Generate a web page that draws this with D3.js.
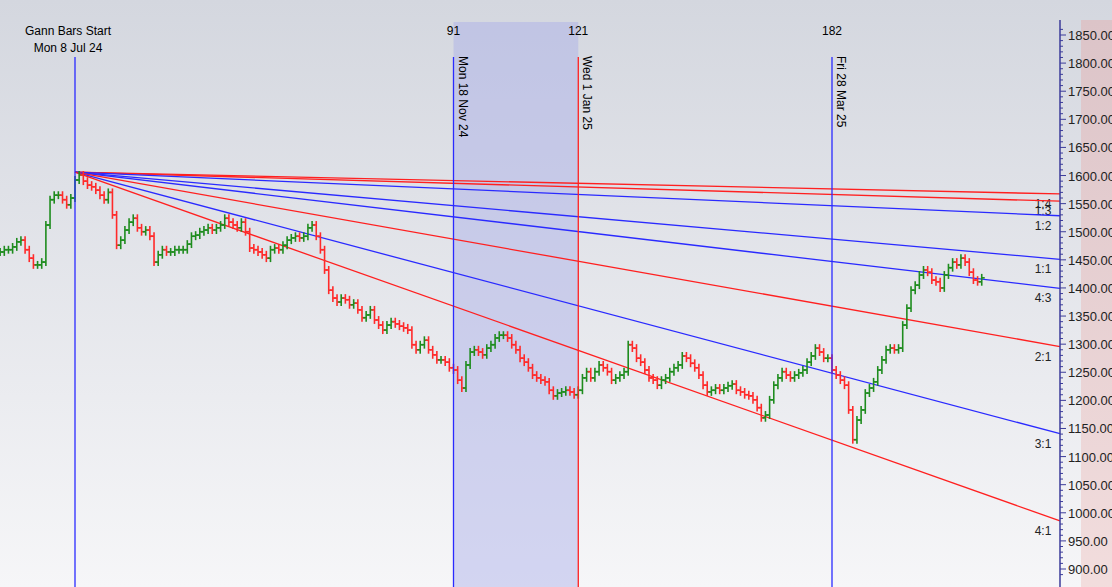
<!DOCTYPE html>
<html><head><meta charset="utf-8">
<script src="https://cdn.jsdelivr.net/npm/d3@7"></script>
<style>body{margin:0;overflow:hidden}svg{display:block;font-family:"Liberation Sans",Arial,sans-serif}</style>
</head><body>
<script>
// bar index 0 = Mon 8 Jul 24 (Gann start); first bar is index -18
const firstBar = -18;
const closes = [
 1464,1468,1468,1473,1482,1485,1468,1453,1441,1441,1446,1512,1557,1565,1565,1557,1548,1560,
 1592,1601,1590,1583,1580,1574,1565,1557,1570,1530,1476,1485,1503,1517,1524,1507,1500,1503,1492,1446,
 1459,1468,1464,1464,1468,1468,1468,1478,1492,1494,1500,1503,1507,1503,1507,1512,1524,1517,1512,1507,
 1517,1500,1471,1468,1464,1459,1453,1468,1471,1468,1476,1485,1489,1492,1489,1492,1507,1512,1492,1468,
 1432,1396,1382,1375,1382,1379,1370,1373,1361,1347,1352,1361,1343,1334,1325,1334,1340,1336,1332,1329,
 1325,1299,1290,1299,1307,1290,1281,1272,1272,1268,1258,1254,1236,1222,1263,1286,1290,1286,1281,1293,
 1299,1311,1316,1316,1311,1299,1290,1275,1268,1258,1245,1240,1236,1233,1218,1208,1213,1215,1218,1215,
 1210,1218,1240,1251,1240,1251,1263,1258,1251,1236,1240,1245,1251,1299,1293,1275,1268,1254,1240,1236,
 1227,1236,1240,1251,1258,1263,1279,1275,1266,1258,1245,1227,1215,1218,1222,1218,1222,1226,1229,1218,
 1215,1210,1208,1201,1187,1169,1174,1201,1227,1240,1251,1245,1240,1245,1249,1254,1268,1279,1293,1286,
 1275,1275,1254,1245,1236,1227,1183,1130,1165,1183,1213,1222,1233,1254,1272,1290,1293,1290,1293,1334,
 1364,1396,1405,1423,1432,1428,1414,1411,1400,1423,1436,1446,1441,1453,1446,1428,1414,1411,1418
];
const gannRatios = ["1:4","1:3","1:2","1:1","4:3","2:1","3:1","4:1"];
const gannMult = [0.25,1/3,0.5,1,4/3,2,3,4];
const gannColors = ["#ff2020","#ff2020","#2a2aff","#2a2aff","#2a2aff","#ff2020","#2a2aff","#ff2020"];
const gannStartPrice = 1606;
const unitPerBar = 0.655;
const markerBars = [0, 91, 121, 182];
const markerNums = ["", "91", "121", "182"];
const markerDates = ["Mon 8 Jul 24", "Mon 18 Nov 24", "Wed 1 Jan 25", "Fri 28 Mar 25"];
const priceTicks = d3.range(900, 1851, 50);

const W = 1112, H = 587, axisX = 1060;
const x = d3.scaleLinear().domain([0, 182]).range([75, 832]);
const y = d3.scaleLinear().domain([900, 1850]).range([569, 35]);
const lastBar = (axisX - 75) / (x(1) - x(0));

const svg = d3.select("body").append("svg").attr("width", W).attr("height", H);
const defs = svg.append("defs");
const bg = defs.append("linearGradient").attr("id","bg").attr("x1",0).attr("y1",0).attr("x2",0).attr("y2",1);
bg.append("stop").attr("offset",0).attr("stop-color","#d4d7df");
bg.append("stop").attr("offset",1).attr("stop-color","#f6f6f8");
const pk = defs.append("linearGradient").attr("id","pk").attr("x1",0).attr("y1",0).attr("x2",0).attr("y2",1);
pk.append("stop").attr("offset",0).attr("stop-color","#dcc4c8");
pk.append("stop").attr("offset",1).attr("stop-color","#f3dede");
svg.append("rect").attr("width",W).attr("height",H).attr("fill","url(#bg)");
svg.append("rect").attr("x",1081).attr("y",20).attr("width",W-1081).attr("height",H).attr("fill","url(#pk)");

// shaded range between bar 91 and 121
svg.append("rect").attr("x",x(91)).attr("y",22).attr("width",x(121)-x(91)).attr("height",H)
  .attr("fill","#a8ace8").attr("opacity",0.45);

// gann fan
gannMult.forEach((m,i)=>{
  svg.append("line").attr("x1",x(0)).attr("y1",y(gannStartPrice))
    .attr("x2",axisX).attr("y2",y(gannStartPrice - m*unitPerBar*lastBar))
    .attr("stroke",gannColors[i]).attr("stroke-width",1.3);
  svg.append("text").attr("x",1043).attr("y",y(gannStartPrice - m*unitPerBar*lastBar)+14)
    .attr("text-anchor","middle").attr("font-size",12).attr("fill","#222").text(gannRatios[i]);
});

// OHLC bars
const bars = closes.map((c,i)=>{
  const o = i ? closes[i-1] : c;
  return {i: firstBar+i, o, c, h: Math.max(o,c)+7, l: Math.min(o,c)-7};
});
const g = svg.append("g").attr("stroke-width",1.6);
bars.forEach(b=>{
  const col = b.c >= b.o ? "#1e8c1e" : "#ff2a2a", cx = x(b.i);
  g.append("line").attr("x1",cx).attr("x2",cx).attr("y1",y(b.h)).attr("y2",y(b.l)).attr("stroke",col);
  g.append("line").attr("x1",cx-3).attr("x2",cx).attr("y1",y(b.o)).attr("y2",y(b.o)).attr("stroke",col);
  g.append("line").attr("x1",cx).attr("x2",cx+3).attr("y1",y(b.c)).attr("y2",y(b.c)).attr("stroke",col);
});

// marker lines and labels
markerBars.forEach((b,i)=>{
  const mx = x(b);
  svg.append("line").attr("x1",mx).attr("x2",mx).attr("y1",57).attr("y2",H)
    .attr("stroke", b===121 ? "#ff2020" : "#2a2aff").attr("stroke-width",1.3);
  if (i===0) {
    svg.append("text").attr("x",mx-7).attr("y",35).attr("text-anchor","middle").attr("font-size",12).text("Gann Bars Start");
    svg.append("text").attr("x",mx-7).attr("y",52).attr("text-anchor","middle").attr("font-size",12).text(markerDates[0]);
  } else {
    svg.append("text").attr("x",mx).attr("y",35).attr("text-anchor","middle").attr("font-size",12).text(markerNums[i]);
    svg.append("text").attr("transform",`translate(${mx+5},56) rotate(90)`).attr("font-size",12).text(markerDates[i]);
  }
});

// price axis
const ax = svg.append("g").attr("transform",`translate(${axisX},0)`);
ax.append("line").attr("y1",20).attr("y2",H).attr("stroke","#3b3b9a").attr("stroke-width",1.5);
d3.range(890, 1861, 10).forEach(v=>{
  ax.append("line").attr("x1",0).attr("x2", v%50===0 ? 6 : 3).attr("y1",y(v)).attr("y2",y(v)).attr("stroke","#3b3b9a");
});
priceTicks.forEach(v=>{
  ax.append("text").attr("x",8).attr("y",y(v)+5).attr("font-size",13).attr("fill","#222").text(v.toFixed(2));
});
</script>
</body></html>
